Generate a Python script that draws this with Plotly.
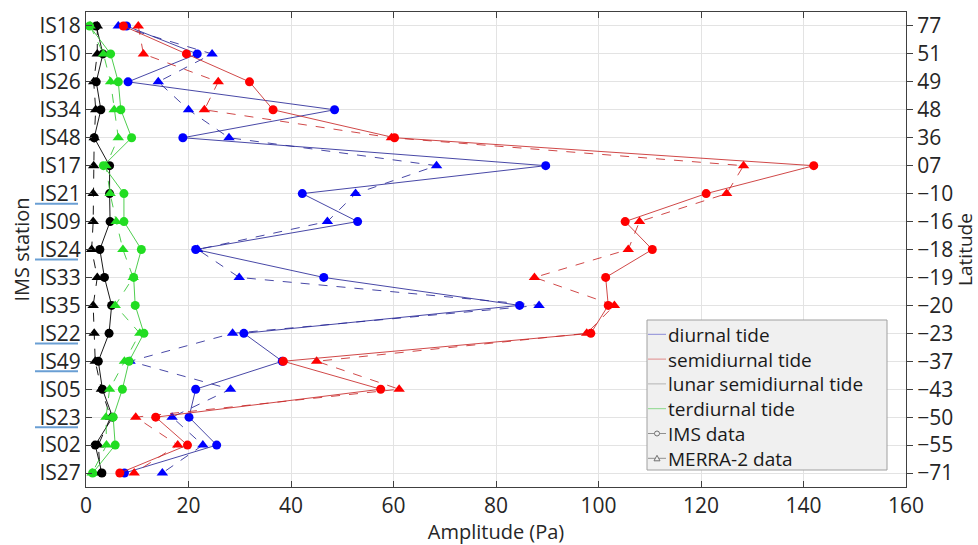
import plotly.graph_objects as go

stations = ['IS18', 'IS10', 'IS26', 'IS34', 'IS48', 'IS17', 'IS21', 'IS09', 'IS24',
            'IS33', 'IS35', 'IS22', 'IS49', 'IS05', 'IS23', 'IS02', 'IS27']
latitudes = ['77', '51', '49', '48', '36', '07', '−10', '−16', '−18',
             '−19', '−20', '−23', '−37', '−43', '−50', '−55', '−71']
underlined = ['IS21', 'IS24', 'IS22', 'IS49', 'IS23']

diurnal_ims = [7.9, 21.7, 8.2, 48.5, 18.9, 89.7, 42.2, 53.0, 21.4, 46.4, 84.6, 30.8, 38.3, 21.4, 20.1, 25.5, 7.5]
diurnal_merra = [6.3, 24.6, 14.1, 20.0, 27.9, 68.4, 52.6, 47.1, 21.8, 29.9, 88.4, 28.6, 8.6, 28.2, 16.8, 22.8, 14.9]
semi_ims = [7.3, 19.6, 31.9, 36.5, 60.2, 142.0, 121.0, 105.2, 110.5, 101.4, 101.9, 98.5, 38.5, 57.5, 13.6, 19.8, 6.6]
semi_merra = [10.2, 11.2, 25.8, 23.1, 59.6, 128.3, 125.0, 108.0, 105.8, 87.5, 103.1, 97.7, 45.0, 61.1, 9.7, 17.9, 9.4]
lunar_ims = [2.0, 3.3, 2.0, 2.9, 1.6, 4.6, 4.6, 4.7, 2.7, 3.6, 5.0, 4.5, 2.4, 3.2, 5.2, 1.8, 3.1]
lunar_merra = [2.2, 2.2, 1.5, 1.9, 1.6, 1.5, 1.4, 1.4, 1.1, 2.2, 1.4, 1.6, 1.8, 3.0, 4.8, 2.4, 2.8]
ter_ims = [0.7, 4.8, 6.3, 6.8, 8.9, 3.4, 7.4, 7.4, 10.8, 9.3, 9.6, 11.3, 8.4, 7.1, 5.3, 5.7, 1.3]
ter_merra = [0.8, 3.4, 4.8, 5.5, 6.3, 3.9, 4.7, 5.9, 7.2, 9.2, 5.7, 10.5, 7.5, 4.6, 3.9, 4.0, 1.2]

legend_names = ['diurnal tide', 'semidiurnal tide', 'lunar semidiurnal tide',
                'terdiurnal tide', 'IMS data', 'MERRA-2 data']
legend_colors = ['#8a8ad8', '#e08a8a', '#b4b4b4', '#8ad88a', '#909090', '#909090']

FONT = 'Open Sans'
W, H = 978, 545
ML, MR, MT, MB = 86, 72, 12, 58
PW, PH = W - ML - MR, H - MT - MB


def px(xp):
    return (xp - ML) / PW


def py(yp):
    return (H - MB - yp) / PH


fig = go.Figure()

series = [
    (diurnal_ims, diurnal_merra, 'rgba(40,40,150,0.85)', '#0000ff'),
    (semi_ims, semi_merra, 'rgba(200,40,40,0.85)', '#ff0000'),
    (lunar_ims, lunar_merra, 'rgba(0,0,0,0.9)', '#000000'),
    (ter_ims, ter_merra, 'rgba(60,200,60,0.9)', '#22dd22'),
]
for ims, merra, lc, mc in series:
    fig.add_trace(go.Scatter(x=merra, y=stations, mode='lines+markers', showlegend=False,
                             line=dict(color=lc, width=1, dash='dash'),
                             marker=dict(symbol='triangle-up', size=10, color=mc)))
    fig.add_trace(go.Scatter(x=ims, y=stations, mode='lines+markers', showlegend=False,
                             line=dict(color=lc, width=1),
                             marker=dict(symbol='circle', size=9, color=mc)))

# invisible trace to carry the latitude axis
fig.add_trace(go.Scatter(x=diurnal_ims, y=latitudes, yaxis='y2', mode='markers',
                         marker=dict(opacity=0), showlegend=False, hoverinfo='skip'))

shapes = []
annotations = []
for s in underlined:
    i = stations.index(s)
    shapes.append(dict(type='line', xref='paper', yref='y', x0=px(35), x1=px(78),
                       y0=i + 0.36, y1=i + 0.36, line=dict(color='#6a9fd4', width=2)))

# legend box
bx0, bx1, by0, by1 = 647, 887, 320, 470
shapes.append(dict(type='rect', xref='paper', yref='paper', x0=px(bx0), x1=px(bx1),
                   y0=py(by1), y1=py(by0), fillcolor='#f0f0f0',
                   line=dict(color='#a0a0a0', width=1), layer='above'))
row_h = 24.8
for k, (name, col) in enumerate(zip(legend_names, legend_colors)):
    yc = 334.3 + k * row_h
    shapes.append(dict(type='line', xref='paper', yref='paper', x0=px(bx0 + 1), x1=px(bx0 + 19),
                       y0=py(yc), y1=py(yc), line=dict(color=col, width=1), layer='above'))
    annotations.append(dict(xref='paper', yref='paper', x=px(bx0 + 19), y=py(yc), text=name,
                            showarrow=False, xanchor='left', yanchor='middle', height=21,
                            font=dict(family=FONT, size=19, color='#1a1a1a')))
# symbol glyphs in the legend
yc = 334.3 + 4 * row_h
shapes.append(dict(type='circle', xref='paper', yref='paper', x0=px(bx0 + 7.5), x1=px(bx0 + 12.5),
                   y0=py(yc + 2.5), y1=py(yc - 2.5), fillcolor='#f0f0f0',
                   line=dict(color='#707070', width=1), layer='above'))
yc = 334.3 + 5 * row_h
shapes.append(dict(type='path', xref='paper', yref='paper',
                   path='M {} {} L {} {} L {} {} Z'.format(px(bx0 + 7), py(yc + 2.5), px(bx0 + 13), py(yc + 2.5),
                                                         px(bx0 + 10), py(yc - 3)),
                   fillcolor='#f0f0f0', line=dict(color='#707070', width=1), layer='above'))

fig.update_layout(
    width=W, height=H,
    margin=dict(l=ML, r=MR, t=MT, b=MB),
    paper_bgcolor='white', plot_bgcolor='white',
    font=dict(family=FONT, size=21, color='#262626'),
    shapes=shapes, annotations=annotations, showlegend=False,
    xaxis=dict(range=[0, 160], dtick=20, showgrid=True, gridcolor='#e3e3e3', gridwidth=1,
               zeroline=False, showline=True, linecolor='#404040', linewidth=1,
               mirror='ticks', ticks='inside', ticklen=6, tickcolor='#404040',
               tickfont=dict(size=21), automargin=False,
               title=dict(text='Amplitude (Pa)', font=dict(size=20), standoff=4)),
    yaxis=dict(type='category', categoryorder='array', categoryarray=stations,
               range=[16.5, -0.5], showgrid=True, gridcolor='#e3e3e3',
               showline=True, linecolor='#404040', linewidth=1, automargin=False,
               ticks='inside', ticklen=6, tickcolor='#404040', tickfont=dict(size=21),
               title=dict(text='IMS station', font=dict(size=20), standoff=4)),
    yaxis2=dict(type='category', categoryorder='array', categoryarray=latitudes,
                range=[16.5, -0.5], overlaying='y', side='right', showgrid=False,
                showline=True, linecolor='#404040', linewidth=1, automargin=False,
                ticks='outside', ticklen=6, tickcolor='#404040', tickfont=dict(size=21),
                title=dict(text='Latitude', font=dict(size=19), standoff=0)),
)

fig.write_html('out.html', config={'displayModeBar': False},
               post_script="document.body.style.margin='0';document.body.style.overflow='hidden';")
